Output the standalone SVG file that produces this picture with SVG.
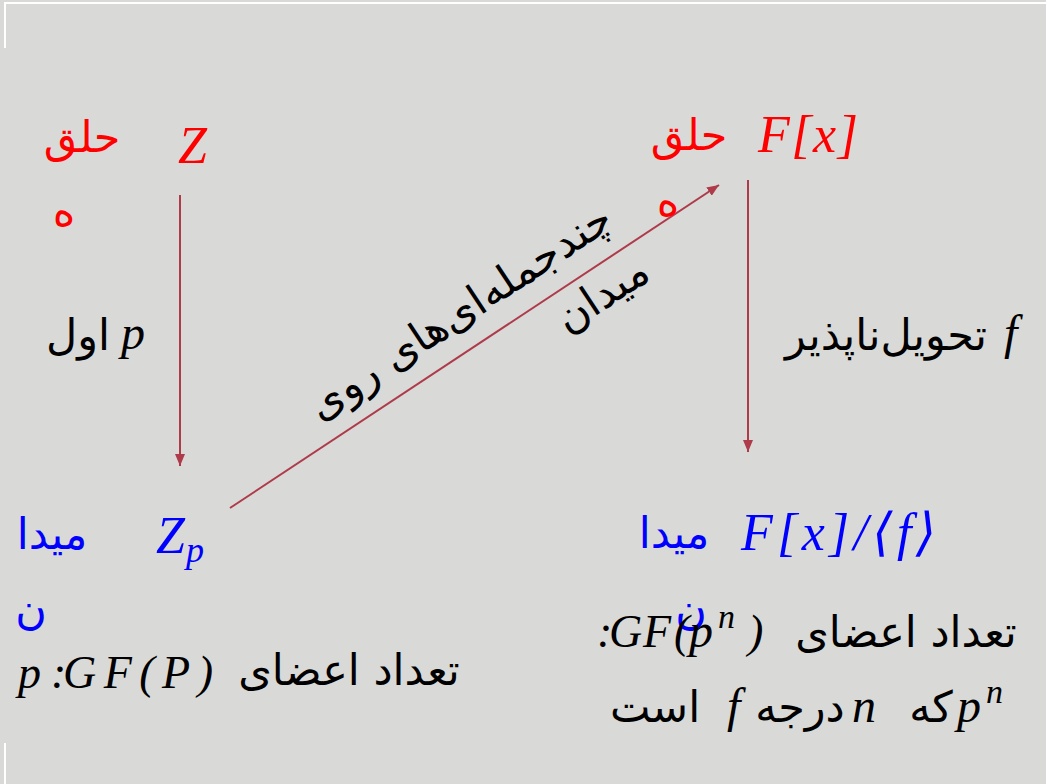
<svg xmlns="http://www.w3.org/2000/svg" width="1046" height="784" viewBox="0 0 1046 784">
<style>
.ar{font-family:"DejaVu Sans",sans-serif;font-size:43px;}
.m{font-family:"Liberation Serif","DejaVu Serif",serif;font-style:italic;}
.red{fill:#ff0000;}
.blue{fill:#0000ff;}
.blk{fill:#000000;}
.conn{stroke:#ae3a4a;stroke-width:2;fill:none;}
</style>
<defs>
<marker id="ah" markerWidth="12" markerHeight="10" refX="12" refY="5" orient="auto" markerUnits="userSpaceOnUse">
<path d="M0,0 L12,5 L0,10 Z" fill="#ae3a4a"/>
</marker>
</defs>
<rect x="0" y="0" width="1046" height="784" fill="#d9d9d7"/>
<path d="M5,48 V3 H1046" stroke="#ffffff" stroke-width="2" fill="none"/>
<path d="M5,743 V784" stroke="#ffffff" stroke-width="2" fill="none"/>

<g id="connectors">
<line class="conn" x1="180" y1="195" x2="180" y2="466" marker-end="url(#ah)"/>
<line class="conn" x1="748" y1="180" x2="748" y2="452" marker-end="url(#ah)"/>
<line class="conn" x1="230" y1="508" x2="719" y2="185" marker-end="url(#ah)"/>
<g id="diag-label" transform="translate(460,312) rotate(-33.5)">
<text class="ar blk" x="0" y="14" text-anchor="middle">چندجمله‌ای‌های روی</text>
<text class="ar blk" x="128" y="78" text-anchor="middle">میدان</text>
</g>
<text class="ar blk" x="78" y="350" text-anchor="middle">اول</text>
<text class="m blk" x="121" y="349" font-size="48">p</text>
<text class="ar blk" x="886" y="350" text-anchor="middle">تحویل‌ناپذیر</text>
<text class="m blk" x="1004" y="349" font-size="48">f</text>
</g>

<g id="node-Z">
<text class="ar red" x="82" y="152" text-anchor="middle">حلق</text>
<text class="ar red" x="64" y="226" text-anchor="middle">ه</text>
<text class="m red" x="178" y="163" font-size="52">Z</text>
</g>

<g id="node-Fx">
<text class="ar red" x="689" y="150" text-anchor="middle">حلق</text>
<text class="ar red" x="668" y="216" text-anchor="middle">ه</text>
<text class="m red" x="758" y="152" font-size="52" textLength="100" lengthAdjust="spacing">F[x]</text>
</g>

<g id="node-Zp">
<text class="ar blue" x="52" y="549" text-anchor="middle">میدا</text>
<text class="ar blue" x="31" y="624" text-anchor="middle">ن</text>
<text class="m blue" x="156" y="553" font-size="52">Z</text>
<text class="m blue" x="186" y="562" font-size="36">p</text>
<text class="ar blk" x="349" y="685" text-anchor="middle">تعداد اعضای</text>
<text class="m blk" x="18" y="688" font-size="46">p</text>
<text class="m blk" x="51" y="688" font-size="46">:</text>
<text class="m blk" x="63" y="688" font-size="46" textLength="150" lengthAdjust="spacing">GF(P)</text>
</g>

<g id="node-Fxf">
<text class="ar blue" x="674" y="548" text-anchor="middle">میدا</text>
<text class="ar blue" x="691" y="624" text-anchor="middle">ن</text>
<text class="m blue" x="741" y="550" font-size="52" textLength="195" lengthAdjust="spacing">F[x]/⟨f⟩</text>
<text class="ar blk" x="906" y="647" text-anchor="middle">تعداد اعضای</text>
<text class="m blk" x="597" y="647" font-size="46">:</text>
<text class="m blk" x="609" y="647" font-size="46" textLength="62" lengthAdjust="spacing">GF</text>
<text class="m blk" x="674" y="647" font-size="46">(</text>
<text class="m blk" x="689" y="647" font-size="48">p</text>
<text class="m blk" x="718" y="628" font-size="34">n</text>
<text class="m blk" x="748" y="647" font-size="46">)</text>
<text class="m blk" x="957" y="722" font-size="48">p</text>
<text class="m blk" x="986" y="703" font-size="34">n</text>
<text class="ar blk" x="931" y="722" text-anchor="middle">که</text>
<text class="m blk" x="852" y="722" font-size="48">n</text>
<text class="ar blk" x="800" y="722" text-anchor="middle">درجه</text>
<text class="m blk" x="727" y="722" font-size="48">f</text>
<text class="ar blk" x="655" y="722" text-anchor="middle">است</text>
</g>
</svg>
